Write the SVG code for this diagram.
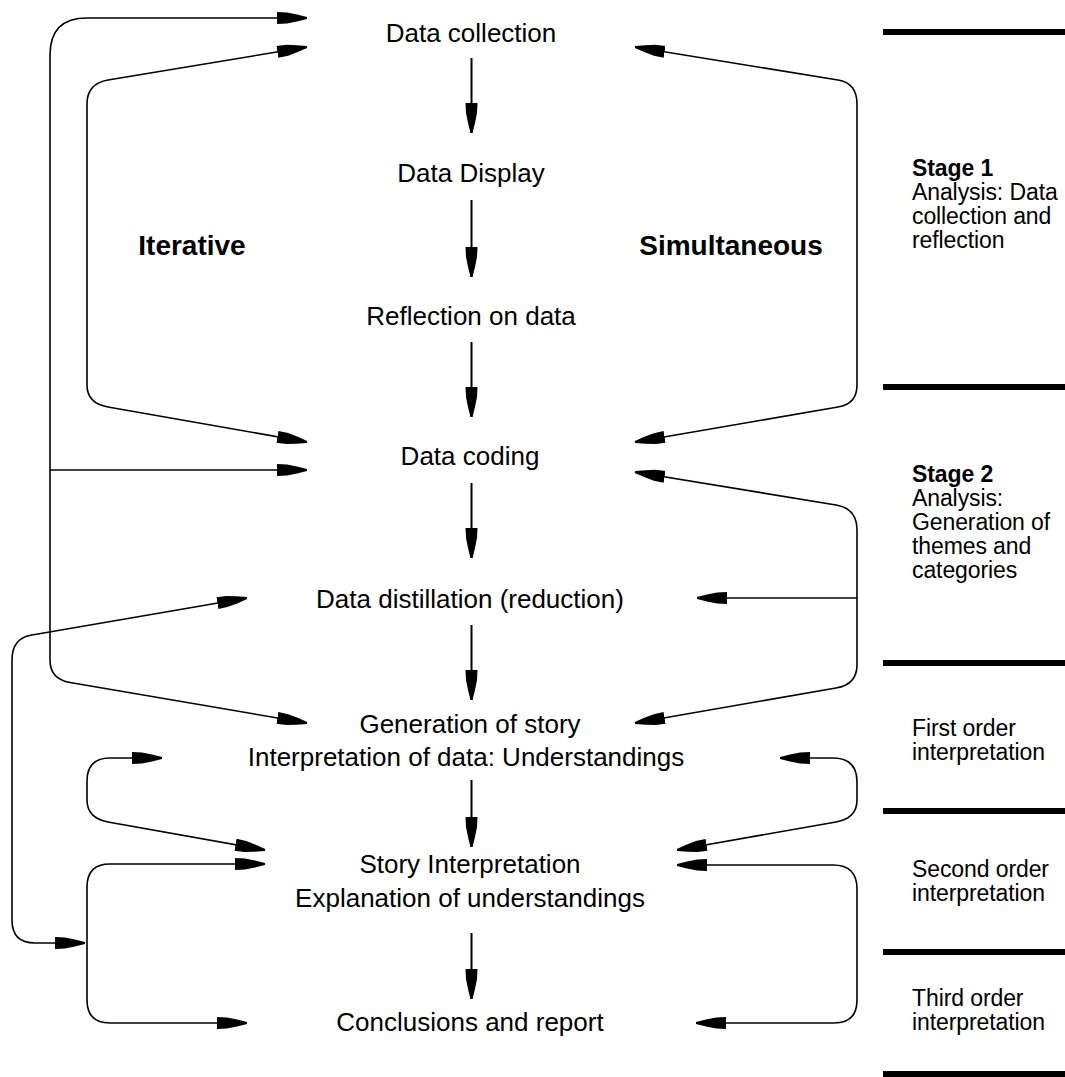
<svg xmlns="http://www.w3.org/2000/svg" width="1065" height="1077" viewBox="0 0 1065 1077">
<style>
.t{font-family:"Liberation Sans",Arial,sans-serif;font-size:26px;fill:#000;text-anchor:middle}
.b{font-family:"Liberation Sans",Arial,sans-serif;font-size:28px;font-weight:bold;fill:#000;text-anchor:middle}
.s{font-family:"Liberation Sans",Arial,sans-serif;font-size:23px;fill:#000;letter-spacing:-0.1px}
.sb{font-weight:bold}
.c{fill:none;stroke:#000;stroke-width:1.6}
.v{fill:none;stroke:#000;stroke-width:2}
.bar{fill:#000}
</style>
<defs>
<marker id="ah" markerUnits="userSpaceOnUse" markerWidth="32" markerHeight="14" viewBox="0 -7 32 14" refX="30" refY="0" orient="auto">
<path d="M0,-6 L10,-5.5 L20,-3.5 L30,-1 L30,1 L20,3.5 L10,5.5 L0,6 Z" fill="#000"/>
</marker>
<marker id="as" markerUnits="userSpaceOnUse" markerWidth="32" markerHeight="14" viewBox="0 -7 32 14" refX="30" refY="0" orient="auto-start-reverse">
<path d="M0,-6 L10,-5.5 L20,-3.5 L30,-1 L30,1 L20,3.5 L10,5.5 L0,6 Z" fill="#000"/>
</marker>
</defs>

<g id="n-collection"><text class="t" x="471" y="42">Data collection</text></g>
<g id="n-display"><text class="t" x="471" y="182">Data Display</text></g>
<g id="n-reflection"><text class="t" x="471" y="325">Reflection on data</text></g>
<g id="n-coding"><text class="t" x="470" y="465">Data coding</text></g>
<g id="n-distillation"><text class="t" x="470" y="608">Data distillation (reduction)</text></g>
<g id="n-generation"><text class="t" x="470" y="733">Generation of story</text><text class="t" x="466" y="766">Interpretation of data: Understandings</text></g>
<g id="n-story"><text class="t" x="470" y="873">Story Interpretation</text><text class="t" x="470" y="907">Explanation of understandings</text></g>
<g id="n-conclusions"><text class="t" x="470" y="1031">Conclusions and report</text></g>
<g id="l-iterative"><text class="b" x="192" y="255">Iterative</text></g>
<g id="l-simultaneous"><text class="b" x="731" y="255">Simultaneous</text></g>

<g id="stages">
<rect class="bar" x="883" y="29" width="182" height="6"/>
<rect class="bar" x="883" y="384" width="182" height="6"/>
<rect class="bar" x="883" y="660" width="182" height="6"/>
<rect class="bar" x="883" y="808" width="182" height="6"/>
<rect class="bar" x="883" y="949" width="182" height="6"/>
<rect class="bar" x="883" y="1071" width="182" height="6"/>
<text class="s"><tspan class="sb" x="912" y="176">Stage 1</tspan><tspan x="912" y="200">Analysis: Data</tspan><tspan x="912" y="224">collection and</tspan><tspan x="912" y="248">reflection</tspan></text>
<text class="s"><tspan class="sb" x="912" y="482">Stage 2</tspan><tspan x="912" y="506">Analysis:</tspan><tspan x="912" y="530">Generation of</tspan><tspan x="912" y="554">themes and</tspan><tspan x="912" y="578">categories</tspan></text>
<text class="s"><tspan x="912" y="736">First order</tspan><tspan x="912" y="760">interpretation</tspan></text>
<text class="s"><tspan x="912" y="877">Second order</tspan><tspan x="912" y="901">interpretation</tspan></text>
<text class="s"><tspan x="912" y="1006">Third order</tspan><tspan x="912" y="1030">interpretation</tspan></text>
</g>

<g id="connectors">
<path class="v" d="M471.5,58 L471.5,133" marker-end="url(#ah)"/>
<path class="v" d="M471.5,200 L471.5,277" marker-end="url(#ah)"/>
<path class="v" d="M471.5,342 L471.5,417" marker-end="url(#ah)"/>
<path class="v" d="M471.5,483 L471.5,558" marker-end="url(#ah)"/>
<path class="v" d="M471.5,625 L471.5,700" marker-end="url(#ah)"/>
<path class="v" d="M471.5,780 L471.5,847" marker-end="url(#ah)"/>
<path class="v" d="M471.5,933 L471.5,999" marker-end="url(#ah)"/>

<path class="c" d="M50,470 L50,55 Q50,18 87,18 L307,18" marker-end="url(#ah)"/>
<path class="c" d="M50,470 L50,660 Q50,679 70,682.5 L307,723" marker-end="url(#ah)"/>
<path class="c" d="M50,470 L307,470" marker-end="url(#ah)"/>
<path class="c" d="M307,47 L108,80 Q87,83.5 87,104 L87,385 Q87,403.3 108,407 L307,442" marker-start="url(#as)" marker-end="url(#ah)"/>
<path class="c" d="M85,943 L35,943 Q12,943 12,920 L12,660 Q12,638 32,635 L247,598" marker-start="url(#as)" marker-end="url(#ah)"/>
<path class="c" d="M162,758 L110,758 Q87,758 87,781 L87,800 Q87,818 108,822 L265,850" marker-start="url(#as)" marker-end="url(#ah)"/>
<path class="c" d="M265,864 L110,864 Q87,864 87,887 L87,1000 Q87,1023 110,1023 L247,1023" marker-start="url(#as)" marker-end="url(#ah)"/>

<path class="c" d="M635,47 L838,80 Q857,83 857,104 L857,385 Q857,404 838,407 L635,442" marker-start="url(#as)" marker-end="url(#ah)"/>
<path class="c" d="M635,472 L836,505 Q857,508.5 857,530 L857,665 Q857,684.5 836,688 L635,723" marker-start="url(#as)" marker-end="url(#ah)"/>
<path class="c" d="M857,598 L697,598" marker-end="url(#ah)"/>
<path class="c" d="M780,758 L833,758 Q857,758 857,782 L857,800 Q857,818.3 836,822 L677,850" marker-start="url(#as)" marker-end="url(#ah)"/>
<path class="c" d="M677,865 L833,865 Q857,865 857,889 L857,1000 Q857,1023 834,1023 L696,1023" marker-start="url(#as)" marker-end="url(#ah)"/>
</g>
</svg>
